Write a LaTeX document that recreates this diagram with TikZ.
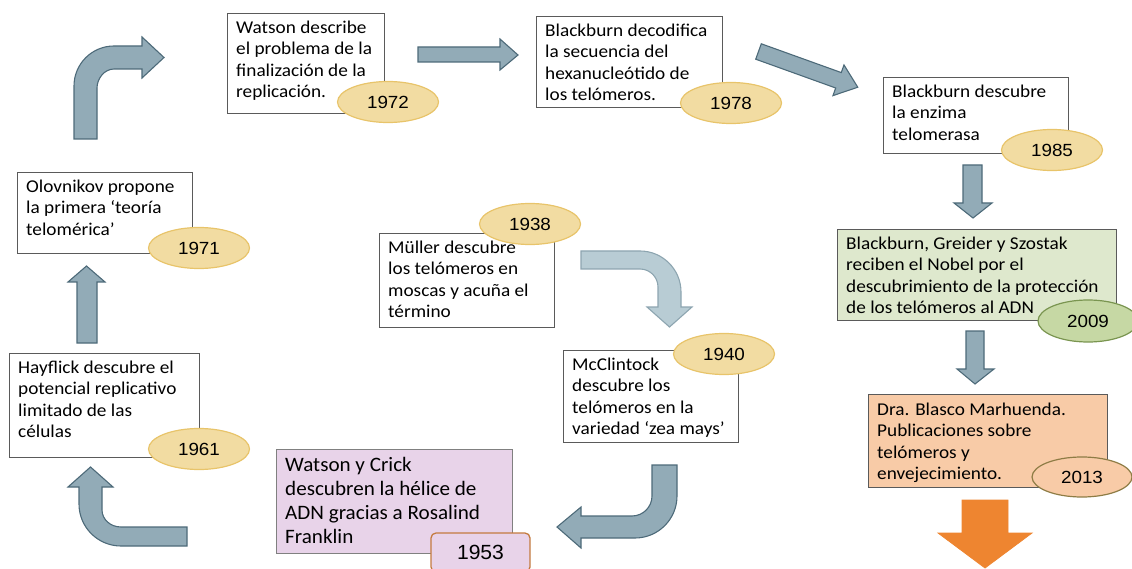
\documentclass[tikz,border=0pt]{standalone}
\usepackage{fontspec}
\setmainfont{Carlito}
\newfontfamily\boxfont[FakeStretch=1.07]{Carlito}
\newfontfamily\crickfont[FakeStretch=1.03]{Carlito}
\newfontfamily\yearfont[FakeStretch=1.07]{Liberation Sans}
\newfontfamily\tagfont[FakeStretch=1.03]{Liberation Sans}
\usetikzlibrary{shapes.geometric}
\definecolor{arrowfill}{HTML}{92ABB7}
\definecolor{arrowline}{HTML}{4D6A79}
\definecolor{lightfill}{HTML}{B8CCD4}
\definecolor{lightline}{HTML}{8DA5B0}
\definecolor{yfill}{HTML}{F2DCA2}
\definecolor{yline}{HTML}{E8C46A}
\definecolor{gfill}{HTML}{C6D8A4}
\definecolor{gline}{HTML}{7A9550}
\definecolor{peach}{HTML}{F8CBA7}
\definecolor{pline}{HTML}{8E7C45}
\definecolor{lilac}{HTML}{E8D3E9}
\definecolor{tagline}{HTML}{C47B3F}
\definecolor{orangearrow}{HTML}{EE8530}
\definecolor{nobelfill}{HTML}{DEE8CD}
\definecolor{boxline}{HTML}{5A5A5A}
\tikzset{
  tbox/.style={draw=boxline, line width=0.9pt, fill=white, rectangle, inner sep=0pt, anchor=north west},
  btext/.style={anchor=north west, inner sep=0pt, align=left, font=\boxfont\fontsize{18}{21.2}\selectfont},
  ctext/.style={anchor=north west, inner sep=0pt, align=left, font=\crickfont\fontsize{20.5}{24.1}\selectfont},
  year/.style={ellipse, draw=yline, fill=yfill, line width=1.2pt, inner sep=0pt, minimum width=101pt, minimum height=41pt, font=\yearfont\fontsize{17.6}{20}\selectfont},
  blockarrow/.style={fill=arrowfill, draw=arrowline, line width=1.1pt, line join=miter},
  lightarrow/.style={fill=lightfill, draw=lightline, line width=1.1pt},
}
\begin{document}
\begin{tikzpicture}[x=1pt,y=-1pt]
\useasboundingbox (0,0) rectangle (1132,569);
\clip (0,0) rectangle (1132,569);

% ---------- block arrows ----------
% A: bent arrow top-left (up then right)
\draw[blockarrow] (74,139) -- (74,86) .. controls (74,63.9) and (91.9,46) .. (114,46)
  -- (142,46) -- (142,37) -- (164,57.5) -- (142,78) -- (142,69) -- (114,69)
  .. controls (104.6,69) and (97,78.4) .. (97,88) -- (97,139) -- cycle;
% B: horizontal arrow 1972 -> 1978
\draw[blockarrow] (418,47) -- (500,47) -- (500,39) -- (518,55) -- (500,70) -- (500,62) -- (418,62) -- cycle;
% C: diagonal arrow 1978 -> 1985
\begin{scope}[shift={(758.5,51.5)}, rotate=-19.8]
\draw[blockarrow] (0,-8.2) -- (85,-8.2) -- (85,-16.3) -- (105.5,0) -- (85,16.3) -- (85,8.2) -- (0,8.2) -- cycle;
\end{scope}
% D: down arrow 1985 -> 2009
\draw[blockarrow] (963,165) -- (982,165) -- (982,203) -- (992,203) -- (973,218) -- (954,203) -- (963,203) -- cycle;
% E: down arrow 2009 -> 2013
\draw[blockarrow] (966,331) -- (984,331) -- (984,369) -- (994,369) -- (975,384) -- (957,369) -- (966,369) -- cycle;
% F: up arrow 1961 -> 1971
\draw[blockarrow] (77,343) -- (97,343) -- (97,282) -- (105,282) -- (86.5,266) -- (68,282) -- (77,282) -- cycle;
% G: bottom-left bent arrow (left then up)
\draw[blockarrow] (79,487) -- (68,487) -- (90.5,467) -- (113,487) -- (102,487) -- (102,510)
  .. controls (102,519.4) and (110.5,527) .. (121,527) -- (187,527) -- (187,546) -- (121,546)
  .. controls (97.8,546) and (79,527.2) .. (79,504) -- cycle;
% H: light arrow 1938 -> 1940
\draw[lightarrow] (581,251) -- (640,251) .. controls (662.6,251) and (681,269.4) .. (681,292)
  -- (681,307) -- (692,307) -- (669.5,327) -- (647,307) -- (658,307) -- (658,287)
  .. controls (658,277.1) and (649.9,269) .. (640,269) -- (581,269) -- cycle;
% I: arrow 1940 -> 1953
\draw[blockarrow] (652,465) -- (677,465) -- (677,496) .. controls (677,519.2) and (658.2,538) .. (635,538)
  -- (581,538) -- (581,548) -- (557,527) -- (581,507) -- (581,516) -- (632,516)
  .. controls (643,516) and (652,507) .. (652,496) -- cycle;
% orange arrow
\draw[fill=orangearrow, draw=orangearrow, line width=0.8pt] (962,500) -- (1008,500) -- (1008,533) -- (1032,533) -- (985,568) -- (938,533) -- (962,533) -- cycle;

% ---------- text boxes ----------
\node[tbox, minimum width=157pt, minimum height=100pt] (watson) at (227,13) {};
\node[btext] at ([shift={(9,8)}]watson.north west) {Watson describe\\el problema de la\\finalización de la\\replicación.};

\node[tbox, minimum width=186pt, minimum height=91pt] (bb78) at (536,16) {};
\node[btext] at ([shift={(9,8)}]bb78.north west) {Blackburn decodifica\\la secuencia del\\hexanucleótido de\\los telómeros.};

\node[tbox, minimum width=185pt, minimum height=76pt] (bb85) at (883,77) {};
\node[btext] at ([shift={(9,8)}]bb85.north west) {Blackburn descubre\\la enzima\\telomerasa};

\node[tbox, fill=nobelfill, minimum width=279pt, minimum height=91pt] (nobel) at (837,229) {};
\node[btext] at ([shift={(9,8)}]nobel.north west) {Blackburn, Greider y Szostak\\reciben el Nobel por el\\descubrimiento de la protección\\de los telómeros al ADN};

\node[tbox, fill=peach, minimum width=239pt, minimum height=93pt] (blasco) at (868,394) {};
\node[btext] at ([shift={(9,9)}]blasco.north west) {Dra. Blasco Marhuenda.\\Publicaciones sobre\\telómeros y\\envejecimiento.};

\node[tbox, minimum width=175pt, minimum height=81pt] (olov) at (17,172) {};
\node[btext] at ([shift={(9,8)}]olov.north west) {Olovnikov propone\\la primera ‘teoría\\telomérica’};

\node[tbox, minimum width=190pt, minimum height=104pt] (hay) at (9,353) {};
\node[btext] at ([shift={(9,8)}]hay.north west) {Hayflick descubre el\\potencial replicativo\\limitado de las\\células};

\node[tbox, minimum width=175pt, minimum height=94pt] (muller) at (379,233) {};
\node[btext] at ([shift={(9,8)}]muller.north west) {Müller descubre\\los telómeros en\\moscas y acuña el\\término};

\node[tbox, minimum width=175pt, minimum height=92pt] (mcc) at (563,350) {};
\node[btext] at ([shift={(9,8)}]mcc.north west) {McClintock\\descubre los\\telómeros en la\\variedad ‘zea mays’};

\node[tbox, fill=lilac, draw=gray, minimum width=236pt, minimum height=104pt] (crick) at (276,449) {};
\node[ctext] at ([shift={(9,8)}]crick.north west) {Watson y Crick\\descubren la hélice de\\ADN gracias a Rosalind\\Franklin};

% ---------- years ----------
\node[year] (y1972) at (388,102) {1972};
\node[year] (y1978) at (731,103) {1978};
\node[year] (y1985) at (1052,150) {1985};
\node[year, fill=gfill, draw=gline, minimum width=100pt, minimum height=42pt] (y2009) at (1088,321) {2009};
\node[year, fill=peach, draw=pline, minimum width=100pt, minimum height=40pt] (y2013) at (1082,477) {2013};
\node[year] (y1971) at (199,248) {1971};
\node[year] (y1961) at (199,449) {1961};
\node[year] (y1938) at (530,224) {1938};
\node[year] (y1940) at (724,354) {1940};
\node[rectangle, rounded corners=5pt, fill=lilac, draw=tagline, line width=1.3pt, minimum width=99pt, minimum height=39pt, inner sep=0pt, font=\tagfont\fontsize{20.5}{22}\selectfont] (y1953) at (480.5,552.5) {1953};
\end{tikzpicture}
\end{document}
